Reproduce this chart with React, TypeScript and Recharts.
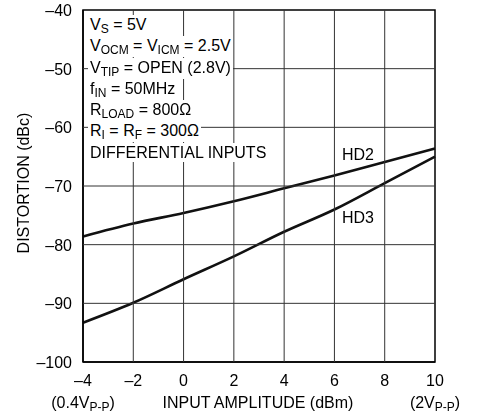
import React from "react";
import {
  LineChart,
  Line,
  XAxis,
  YAxis,
  ReferenceArea,
} from "recharts";

const amplitude = [-4, -2, 0, 2, 4, 6, 8, 10];
const hd2 = [-78.6, -76.4, -74.6, -72.6, -70.4, -68.2, -65.9, -63.6];
const hd3 = [-93.3, -89.9, -85.9, -82.0, -77.8, -74.0, -69.5, -65.0];
const xTicks = [-4, -2, 0, 2, 4, 6, 8, 10];
const yTicks = [-100, -90, -80, -70, -60, -50, -40];

const FONT = "'Liberation Sans', sans-serif";

// plot box edges (chart margin + axis sizes)
const PLOT_TOP = 10;
const PLOT_BOTTOM = 362;
const PLOT_LEFT = 83;
const PLOT_RIGHT = 435;
const GRID = "#333";

const data = amplitude.map((x, i) => ({ x, hd2: hd2[i], hd3: hd3[i] }));

const fmt = (v: number) => (v < 0 ? "\u2013" + Math.abs(v) : String(v));

// the tick components also draw the grid lines at their own positions
const XTick = (props: any) => {
  const { x, y, payload } = props;
  const v = payload.value;
  const inner = v !== xTicks[0] && v !== xTicks[xTicks.length - 1];
  return (
    <g>
      {inner && (
        <line x1={x} x2={x} y1={PLOT_BOTTOM} y2={PLOT_TOP} stroke={GRID} strokeWidth={1} />
      )}
      <text x={x} y={y + 16} textAnchor="middle" fontSize={16} fontFamily={FONT} fill="#000">
        {fmt(v)}
      </text>
      {v === -4 && (
        <text x={x} y={y + 38} textAnchor="middle" fontSize={16} fontFamily={FONT} fill="#000">
          (0.4V<tspan fontSize={12} dy={3}>P-P</tspan>
          <tspan dy={-3}>)</tspan>
        </text>
      )}
      {v === 10 && (
        <text x={x} y={y + 38} textAnchor="middle" fontSize={16} fontFamily={FONT} fill="#000">
          (2V<tspan fontSize={12} dy={3}>P-P</tspan>
          <tspan dy={-3}>)</tspan>
        </text>
      )}
    </g>
  );
};

const YTick = (props: any) => {
  const { x, y, payload } = props;
  const v = payload.value;
  const inner = v !== yTicks[0] && v !== yTicks[yTicks.length - 1];
  return (
    <g>
      {inner && (
        <line x1={PLOT_LEFT} x2={PLOT_RIGHT} y1={y} y2={y} stroke={GRID} strokeWidth={1} />
      )}
      <text x={x - 3} y={y + 6} textAnchor="end" fontSize={16} fontFamily={FONT} fill="#000">
        {fmt(v)}
      </text>
    </g>
  );
};

const Sub = ({ children }: { children: React.ReactNode }) => (
  <span style={{ fontSize: 12, position: "relative", top: 3 }}>{children}</span>
);

// each note line gets its own white box, hiding the grid behind it
const Note = ({ children, top }: { children: React.ReactNode; top: number }) => (
  <div
    style={{
      position: "absolute",
      left: 88,
      top,
      background: "#fff",
      padding: "0 2px",
      whiteSpace: "nowrap",
      lineHeight: "19px",
    }}
  >
    {children}
  </div>
);

export default function App() {
  return (
    <div
      style={{
        position: "fixed",
        left: 0,
        top: 0,
        width: 479,
        height: 419,
        fontFamily: FONT,
        fontSize: 16,
        color: "#000",
      }}
    >
      <LineChart
        width={479}
        height={419}
        data={data}
        margin={{ top: 10, right: 44, bottom: 0, left: 0 }}
      >
        <XAxis
          dataKey="x"
          type="number"
          domain={[-4, 10]}
          ticks={xTicks}
          height={57}
          tickLine={false}
          axisLine={{ stroke: "#000", strokeWidth: 1.5 }}
          tick={<XTick />}
        />
        <YAxis
          type="number"
          domain={[-100, -40]}
          ticks={yTicks}
          width={83}
          tickLine={false}
          axisLine={{ stroke: "#000", strokeWidth: 1.5 }}
          tick={<YTick />}
        />
        <ReferenceArea
          x1={-4}
          x2={10}
          y1={-100}
          y2={-40}
          fill="none"
          stroke="#000"
          strokeWidth={1.5}
        />
        <Line
          dataKey="hd2"
          type="monotone"
          stroke="#111"
          strokeWidth={2.6}
          dot={false}
          isAnimationActive={false}
        />
        <Line
          dataKey="hd3"
          type="monotone"
          stroke="#111"
          strokeWidth={2.6}
          dot={false}
          isAnimationActive={false}
        />
      </LineChart>

      <Note top={15}>
        V<Sub>S</Sub> = 5V
      </Note>
      <Note top={36}>
        V<Sub>OCM</Sub> = V<Sub>ICM</Sub> = 2.5V
      </Note>
      <Note top={58}>
        V<Sub>TIP</Sub> = OPEN (2.8V)
      </Note>
      <Note top={79}>
        f<Sub>IN</Sub> = 50MHz
      </Note>
      <Note top={100}>
        R<Sub>LOAD</Sub> = 800Ω
      </Note>
      <Note top={121}>
        R<Sub>I</Sub> = R<Sub>F</Sub> = 300Ω
      </Note>
      <Note top={143}>DIFFERENTIAL INPUTS</Note>

      <div style={{ position: "absolute", left: 342, top: 146, lineHeight: "18px" }}>HD2</div>
      <div style={{ position: "absolute", left: 342, top: 209, lineHeight: "18px" }}>HD3</div>

      <div
        style={{
          position: "absolute",
          left: 258,
          top: 394,
          transform: "translateX(-50%)",
          whiteSpace: "nowrap",
          lineHeight: "18px",
        }}
      >
        INPUT AMPLITUDE (dBm)
      </div>
      <div
        style={{
          position: "absolute",
          left: 24,
          top: 183,
          transform: "translate(-50%, -50%) rotate(-90deg)",
          whiteSpace: "nowrap",
          lineHeight: "18px",
        }}
      >
        DISTORTION (dBc)
      </div>
    </div>
  );
}
